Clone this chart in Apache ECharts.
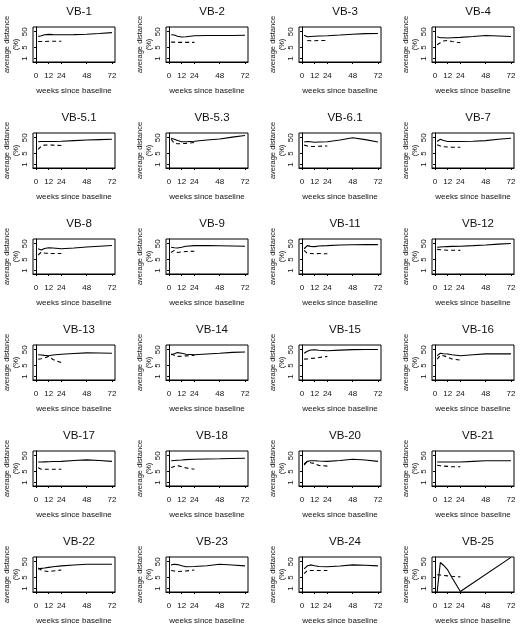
<!DOCTYPE html>
<html>
<head>
<meta charset="utf-8">
<script src="https://cdn.jsdelivr.net/npm/echarts@6/dist/echarts.min.js"></script>
<style>
html,body{margin:0;padding:0;background:#fff;}
#chart{width:520px;height:637px;}
</style>
</head>
<body>
<div id="chart"></div>
<script>
// ---- data ----
var panelNames = ['VB-1','VB-2','VB-3','VB-4','VB-5.1','VB-5.3','VB-6.1','VB-7','VB-8','VB-9','VB-11','VB-12',
  'VB-13','VB-14','VB-15','VB-16','VB-17','VB-18','VB-20','VB-21','VB-22','VB-23','VB-24','VB-25'];
var solidWeeks  = [2, 5, 8, 12, 16, 24, 36, 48, 60, 72];
var dashedWeeks = [2, 5, 8, 12, 16, 24];
var xTicks = [0, 12, 24, 48, 72];
var yTicks = [1, 5, 50];
var solidValues = [
  [25, 28, 32, 34, 33, 32, 33, 35, 39, 44],
  [32, 31, 26, 23, 24, 28, 29, 29, 29, 30],
  [30, 24, 25, 26, 27, 28, 31, 35, 38, 39],
  [24, 21, 21, 20, 21, 22, 25, 29, 27, 25],
  [28, 29, 29, 29, 29, 30, 33, 36, 38, 40],
  [46, 40, 33, 28, 28, 30, 36, 42, 55, 70],
  [27, 29, 28, 26, 27, 28, 36, 50, 38, 27],
  [29, 40, 33, 29, 29, 29, 30, 33, 40, 46],
  [24, 20, 25, 28, 27, 24, 27, 31, 35, 39],
  [30, 28, 27, 30, 35, 38, 38, 37, 36, 35],
  [24, 38, 34, 33, 36, 38, 42, 43, 44, 44],
  [30, 31, 32, 33, 34, 35, 38, 42, 47, 52],
  [24, 23, 22, 21, 23, 26, 29, 31.5, 31, 30],
  [24, 28, 33, 30, 26, 24, 27, 30, 34, 36],
  [30, 40, 48, 50, 46, 43, 47, 51, 52, 52],
  [21, 30, 28, 27, 24, 21, 24, 27.5, 27.5, 27.5],
  [20, 20, 20.5, 21, 21.5, 22, 25, 27.5, 25, 22],
  [24, 25, 26, 27, 28.5, 30, 31, 32, 33.5, 34.7],
  [12.6, 22, 24, 24, 23, 22, 25, 30, 27, 22],
  [20, 20, 20, 20, 20, 20, 22, 24, 24, 24],
  [17.4, 19, 20, 22, 24, 27.5, 31, 34.7, 35, 34.7],
  [31.5, 34.7, 33, 28, 24, 25, 28, 34.7, 31, 27.5],
  [17.4, 27.5, 31.5, 28, 25, 24, 27, 31.5, 30, 27.5],
  [0.6, 45, 30, 15, 5, 0.65, null, null, null, 95]
];
var dashedValues = [
  [12, 12, 12, 12.5, 12.5, 12.5],
  [11, 11, 10.5, 10.5, 10.5, 10.5],
  [null, 14, 13.5, 13.5, 14, 14],
  [7.5, 10, 13, 14, 12, 10],
  [9, 15, 17, 17.5, 17, 16],
  [40, 22, 21, 21, 22, 25],
  [17, 15, 14, 14, 14.5, 15],
  [18, 15, 13.5, 13, 12.5, 12.5],
  [9.6, 15, 13, 12, 12, 12],
  [13.8, 19, 14, 15, 16, 16.6],
  [19, 12, 12, 11.5, 12, 11.5],
  [22, 21, 20, 19.5, 19.5, 19],
  [12.6, 13.5, 15, 19, 12, 7.6],
  [27, 22, 19, 19.5, 20.5, 22],
  [12.6, 13, 14, 14.5, 16, 19],
  [12.6, 22, 21, 17, 13, 11],
  [8.7, 7, 6.9, 6.9, 7, 7],
  [9, 10.5, 12, 10, 8.5, 7],
  [15, 22, 18, 16, 12, 11],
  [12.6, 11.5, 11, 10.5, 10, 10],
  [20, 15, 13, 12, 13, 15],
  [14, 13, 12, 12.5, 13, 15],
  [8.7, 14, 14, 14, 14, 14],
  [7.5, 7.2, 6.8, 6.3, 6, 5.5]
];

// ---- layout ----
var FONT = "'Liberation Sans', Arial, Helvetica, sans-serif";
var colLeft = [33, 166, 299, 432];
var boxW = 82, boxH = 35, rowStep = 106, boxTop0 = 27;

function pairs(weeks, vals){
  return weeks.map(function(w,i){ return [w, vals[i]]; });
}

var grids = [], xAxes = [], yAxes = [], series = [], titles = [];
panelNames.forEach(function(name, i){
  var r = Math.floor(i/4), c = i % 4;
  var left = colLeft[c], top = boxTop0 + r*rowStep;
  grids.push({left: left, top: top, width: boxW, height: boxH, show: true,
    borderColor: '#000', borderWidth: 1, backgroundColor: '#fff', containLabel: false});
  titles.push({text: name, left: left + boxW/2, top: top - 26, textAlign: 'center',
    textStyle: {fontFamily: FONT, fontSize: 11.5, fontWeight: 'normal', color: '#111'}});
  xAxes.push({type: 'value', gridIndex: i, min: -2.88, max: 74.88,
    name: 'weeks since baseline', nameLocation: 'middle', nameGap: 25,
    nameTextStyle: {fontFamily: FONT, fontSize: 8, color: '#111'},
    axisLine: {show: true, onZero: false, lineStyle: {color: '#000', width: 1}},
    axisTick: {show: true, length: 2, customValues: xTicks, lineStyle: {color: '#000'}},
    axisLabel: {show: true, customValues: xTicks, margin: 10, fontFamily: FONT, fontSize: 8, color: '#111'},
    splitLine: {show: false}});
  yAxes.push({type: 'log', logBase: 10, gridIndex: i, min: 0.6, max: 100,
    name: 'average distance\n(%)', nameLocation: 'middle', nameGap: 12, nameRotate: 90,
    nameTextStyle: {fontFamily: FONT, fontSize: 7.5, color: '#111', lineHeight: 9},
    axisLine: {show: true, lineStyle: {color: '#000', width: 1}},
    axisTick: {show: true, length: 2, customValues: yTicks, lineStyle: {color: '#000'}},
    axisLabel: {show: true, customValues: yTicks, rotate: 90, margin: 4, fontFamily: FONT, fontSize: 8, color: '#111',
      formatter: function(v){ return String(Math.round(v)); }},
    splitLine: {show: false}});
  series.push({type: 'line', xAxisIndex: i, yAxisIndex: i, data: pairs(solidWeeks, solidValues[i]),
    showSymbol: false, connectNulls: true, lineStyle: {color: '#000', width: 1.1, type: 'solid'}, animation: false});
  series.push({type: 'line', xAxisIndex: i, yAxisIndex: i, data: pairs(dashedWeeks, dashedValues[i]),
    showSymbol: false, connectNulls: true, lineStyle: {color: '#000', width: 1.1, type: [4, 3]}, animation: false});
});

var chart = echarts.init(document.getElementById('chart'), null, {renderer: 'canvas'});
chart.setOption({
  backgroundColor: '#fff',
  animation: false,
  title: titles,
  grid: grids,
  xAxis: xAxes,
  yAxis: yAxes,
  series: series
});
</script>
</body>
</html>
